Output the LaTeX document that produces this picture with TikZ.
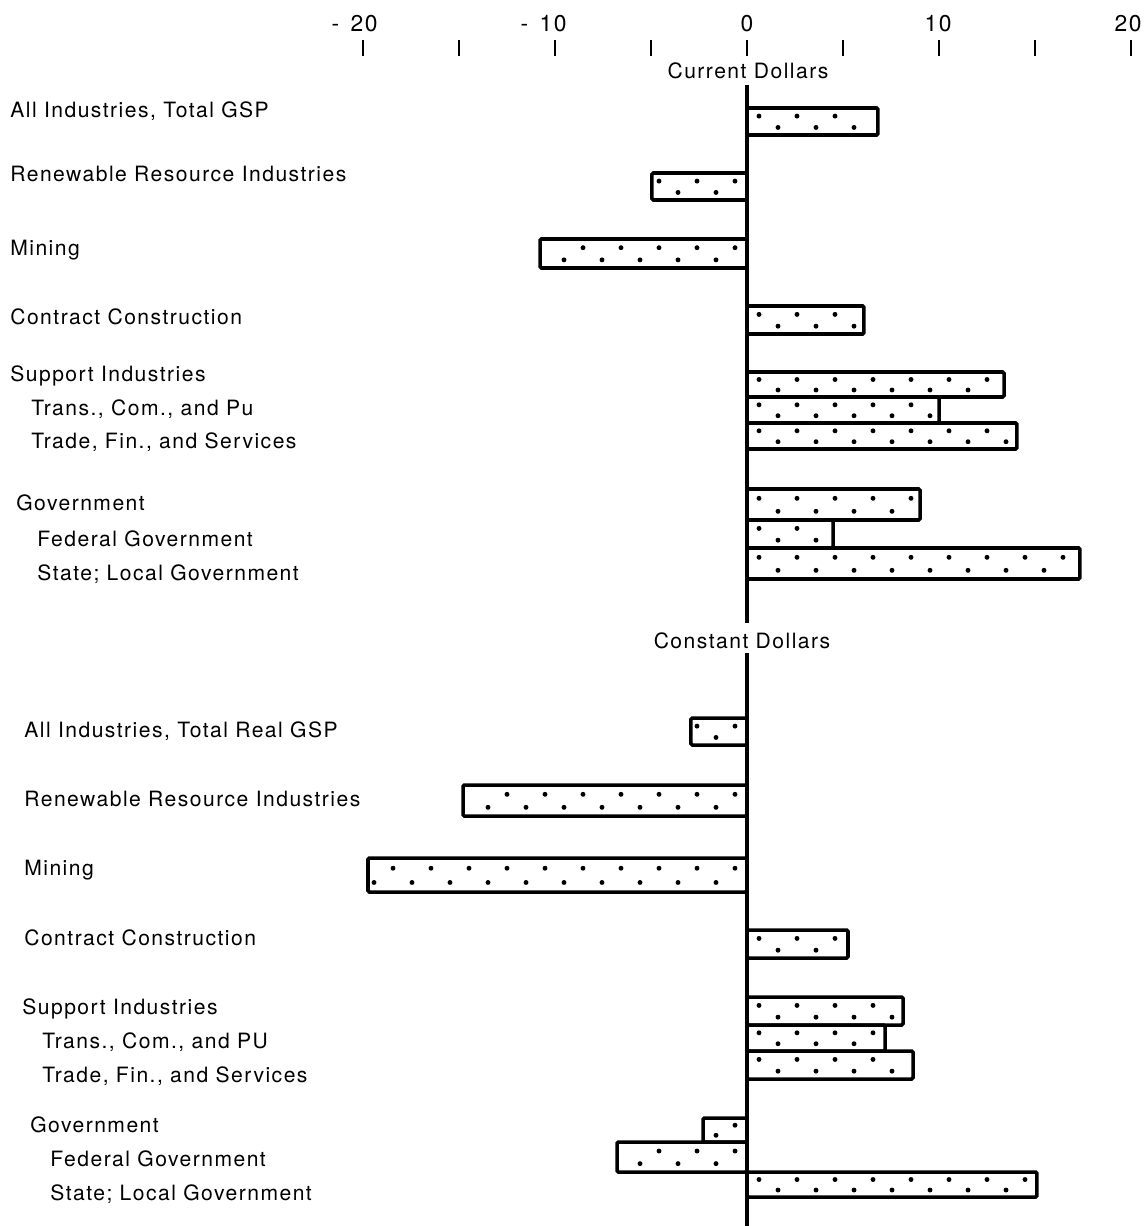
\documentclass[tikz,border=0pt]{standalone}
\usepackage{fontspec}
\setmainfont[LetterSpace=7]{TeX Gyre Heros}
\usetikzlibrary{calc}

\def\zerox{747}
\tikzset{
	barline/.style={line width=2pt, rounded corners=0.8pt},
	axisline/.style={line width=1.8pt},
	tickmark/.style={line width=1.1pt},
	lbl/.style={anchor=base west, inner sep=0pt, font=\fontsize{12}{14}\selectfont},
	head/.style={anchor=base, inner sep=0pt, font=\fontsize{12}{14}\selectfont},
	scalenum/.style={anchor=base, inner sep=0pt, font=\fontsize{13}{15}\selectfont}
}
% bar from the zero line: value, top, bottom
\newcommand\gspbar[3]{%
	\pgfmathsetmacro\xend{\zerox+19.2*#1}
	\pgfmathsetmacro\sgn{sign(#1)}
	\pgfmathtruncatemacro\ndotsa{(abs(19.2*#1)-18)/38}
	\pgfmathtruncatemacro\ndotsb{(abs(19.2*#1)-37)/38}
	\foreach \k in {0,...,\ndotsa}
		\fill ({\zerox+\sgn*(12+38*\k)},{#2+0.3*(#3-#2)}) circle (1.4pt);
	\foreach \k in {0,...,\ndotsb}
		\fill ({\zerox+\sgn*(31+38*\k)},{#2+0.72*(#3-#2)}) circle (1.4pt);
	\draw[barline] (\zerox,#2) rectangle (\xend,#3);
}

\begin{document}
\begin{tikzpicture}[x=0.02cm, y=-0.02cm]
			\useasboundingbox (0,0) rectangle (1147,1226);
			%%%%% SCALE %%%%%
			\foreach \v in {-20,-15,...,20}
				\draw[tickmark] (\zerox+19.2*\v,40) -- (\zerox+19.2*\v,56);
			\node[scalenum, anchor=base east] (sm20) at (378,32) {-\hspace{0.5em}20};
			\node[scalenum, anchor=base east] (sm10) at (567,32) {-\hspace{0.5em}10};
			\node[scalenum] (s0) at (747,32) {0};
			\node[scalenum] (s10) at (938,32) {10};
			\node[scalenum] (s20) at (1128,32) {20};
			
			\draw[axisline] (\zerox,85) -- (\zerox,623);
			\draw[axisline] (\zerox,653) -- (\zerox,1226);
			
			%%%%% CURRENT DOLLARS %%%%%
			\node[head] (cur) at (748,79) {Current Dollars};
			\node[lbl] (cur-all) at (10,118) {All Industries, Total GSP};
			\node[lbl] (cur-ren) at (10,182) {Renewable Resource Industries};
			\node[lbl] (cur-min) at (10,256) {Mining};
			\node[lbl] (cur-con) at (10,324) {Contract Construction};
			\node[lbl] (cur-sup) at (10,381) {Support Industries};
			\node[lbl] (cur-tcp) at (31,415) {Trans., Com., and Pu};
			\node[lbl] (cur-tfs) at (31,448) {Trade, Fin., and Services};
			\node[lbl] (cur-gov) at (16,510) {Government};
			\node[lbl] (cur-fed) at (37,546) {Federal Government};
			\node[lbl] (cur-sl) at (37,580) {State; Local Government};
			
			\gspbar{6.82}{108}{135}
			\gspbar{-4.95}{173}{200}
			\gspbar{-10.78}{239}{268}
			\gspbar{6.09}{306}{334}
			\gspbar{13.39}{372}{397}
			\gspbar{10.0}{397}{423}
			\gspbar{14.06}{423}{449}
			\gspbar{9.01}{489}{520}
			\gspbar{4.48}{520}{548}
			\gspbar{17.34}{548}{579}
			
			%%%%% CONSTANT DOLLARS %%%%%
			\node[head] (con) at (742,648) {Constant Dollars};
			\node[lbl] (con-all) at (24,737) {All Industries, Total Real GSP};
			\node[lbl] (con-ren) at (24,806) {Renewable Resource Industries};
			\node[lbl] (con-min) at (24,875) {Mining};
			\node[lbl] (con-con) at (24,945) {Contract Construction};
			\node[lbl] (con-sup) at (22,1014) {Support Industries};
			\node[lbl] (con-tcp) at (42,1048) {Trans., Com., and PU};
			\node[lbl] (con-tfs) at (42,1082) {Trade, Fin., and Services};
			\node[lbl] (con-gov) at (30,1132) {Government};
			\node[lbl] (con-fed) at (50,1166) {Federal Government};
			\node[lbl] (con-sl) at (50,1200) {State; Local Government};
			
			\gspbar{-2.92}{718}{745}
			\gspbar{-14.79}{785}{816}
			\gspbar{-19.74}{858}{892}
			\gspbar{5.26}{930}{958}
			\gspbar{8.13}{997}{1025}
			\gspbar{7.19}{1025}{1051}
			\gspbar{8.65}{1051}{1079}
			\gspbar{-2.29}{1118}{1142}
			\gspbar{-6.77}{1142}{1172}
			\gspbar{15.1}{1172}{1197}
			%%%%% END %%%%%
\end{tikzpicture}
\end{document}
